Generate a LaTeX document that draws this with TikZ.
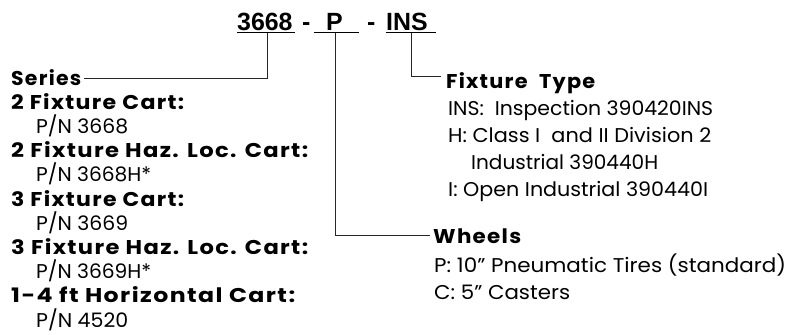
\documentclass[tikz,border=0pt]{standalone}
\usepackage{graphicx}
\usepackage{fontspec}
\setmainfont{Poppins}
\newfontfamily\titlefont{Liberation Sans}
\newcommand{\fw}[2]{\resizebox{#1bp}{\height}{#2}}
\begin{document}
\begin{tikzpicture}[x=1bp,y=-1bp,
  txt/.style={anchor=base west, inner sep=0pt, font=\fontsize{20}{20}\selectfont},
  hdr/.style={anchor=base west, inner sep=0pt, font=\fontsize{20}{20}\selectfont\bfseries\addfontfeature{LetterSpace=6}},
  ttl/.style={anchor=base west, inner sep=0pt, font=\fontsize{25}{25}\selectfont\titlefont\bfseries},
  conn/.style={line width=0.9bp, black!85},
  uline/.style={line width=1.3bp, black}]
\useasboundingbox (0,0) rectangle (789,334);
% title
\node[ttl] (t1) at (237,30) {3668};
\node[ttl] (d1) at (302,30) {-};
\node[ttl] (t2) at (326,30) {P};
\node[ttl] (d2) at (367,30) {-};
\node[ttl] (t3) at (386,30) {INS};
\coordinate (u1a) at (237,32.5); \coordinate (u1b) at (295,32.5);
\coordinate (u2a) at (314,32.5); \coordinate (u2b) at (359,32.5);
\coordinate (u3a) at (386,32.5); \coordinate (u3b) at (436,32.5);
\draw[uline] (u1a) -- (u1b);
\draw[uline] (u2a) -- (u2b);
\draw[uline] (u3a) -- (u3b);
\coordinate (v1) at (267,33); \coordinate (v2) at (335,33); \coordinate (v3) at (411,33);
% left column
\node[hdr] (series) at (11,85) {\fw{70}{Series}};
\node[hdr] (l1) at (11,109.2) {\fw{173}{2 Fixture Cart:}};
\node[txt] (l2) at (36,133.4) {\fw{92}{P/N 3668}};
\node[hdr] (l3) at (11,157.6) {\fw{297}{2 Fixture Haz. Loc. Cart:}};
\node[txt] (l4) at (36,181.8) {\fw{115}{P/N 3668H*}};
\node[hdr] (l5) at (11,206) {\fw{173}{3 Fixture Cart:}};
\node[txt] (l6) at (36,230.2) {\fw{92}{P/N 3669}};
\node[hdr] (l7) at (11,254.4) {\fw{297}{3 Fixture Haz. Loc. Cart:}};
\node[txt] (l8) at (36,278.6) {\fw{115}{P/N 3669H*}};
\node[hdr] (l9) at (11,302.8) {\fw{284}{1-4 ft Horizontal Cart:}};
\node[txt] (l10) at (36,327) {\fw{92}{P/N 4520}};
% fixture type
\node[hdr] (ft) at (446,88) {\fw{149}{Fixture\ \ Type}};
\node[txt] (f1) at (448,115) {\fw{265}{INS:\ \ Inspection 390420INS}};
\node[txt] (f2) at (448,142) {\fw{263}{H: Class I\ \ and II Division 2}};
\node[txt] (f3) at (471,169) {\fw{187}{Industrial 390440H}};
\node[txt] (f4) at (448,196) {\fw{260}{I: Open Industrial 390440I}};
% wheels
\node[hdr] (wh) at (433,243) {\fw{88}{Wheels}};
\node[txt] (w1) at (434,272) {\fw{352}{P: 10” Pneumatic Tires (standard)}};
\node[txt] (w2) at (434,299) {\fw{136}{C: 5” Casters}};
% connectors
\coordinate (se) at (84,78);
\coordinate (fe) at (441,76);
\coordinate (we) at (430,235);
\draw[conn] (v1) |- (se);
\draw[conn] (v2) |- (we);
\draw[conn] (v3) |- (fe);
\end{tikzpicture}
\end{document}
